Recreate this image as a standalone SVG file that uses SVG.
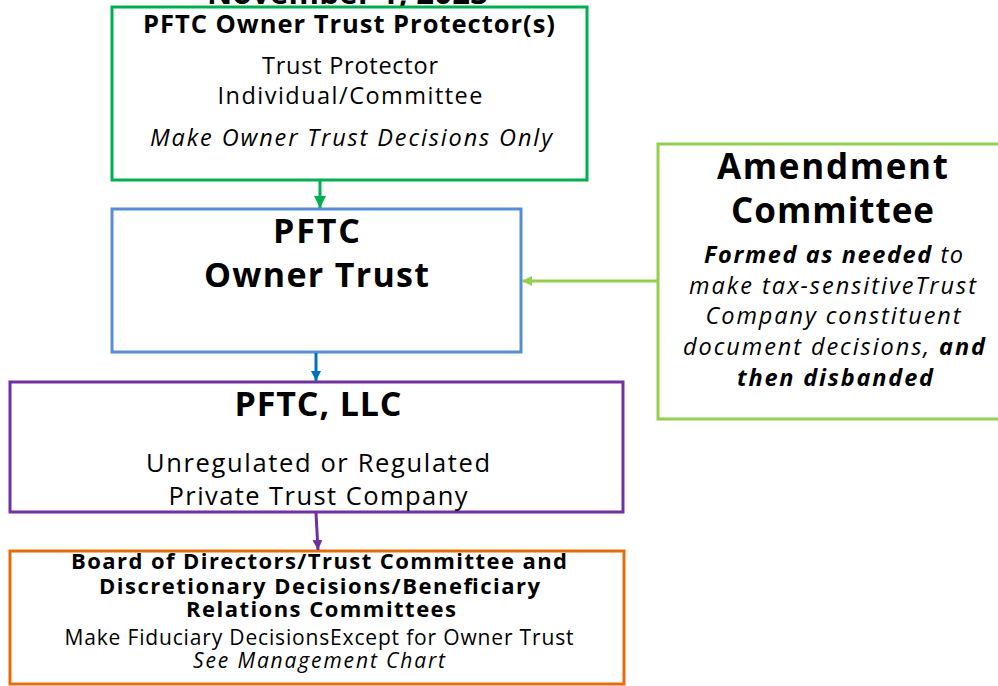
<svg xmlns="http://www.w3.org/2000/svg" width="998" height="686" viewBox="0 0 998 686">
  <style>
    text { font-family: "Open Sans", "Noto Sans", "DejaVu Sans", sans-serif; fill: #000; text-anchor: middle; }
    .b { font-weight: bold; }
    .i { font-style: italic; }
    .box { fill: #fff; stroke-width: 3; }
    .conn { fill: none; stroke-width: 3; }
  </style>
  <defs>
    <marker id="ahGreen" markerUnits="userSpaceOnUse" markerWidth="12" markerHeight="12" refX="10" refY="5" orient="auto" viewBox="0 0 10 10">
      <path d="M0,0 L10,5 L0,10 z" fill="#00b050"/>
    </marker>
    <marker id="ahBlue" markerUnits="userSpaceOnUse" markerWidth="10" markerHeight="10" refX="10" refY="5" orient="auto" viewBox="0 0 10 10">
      <path d="M0,0 L10,5 L0,10 z" fill="#0070c0"/>
    </marker>
    <marker id="ahPurple" markerUnits="userSpaceOnUse" markerWidth="10" markerHeight="10" refX="10" refY="5" orient="auto" viewBox="0 0 10 10">
      <path d="M0,0 L10,5 L0,10 z" fill="#7030a0"/>
    </marker>
    <marker id="ahLight" markerUnits="userSpaceOnUse" markerWidth="10" markerHeight="10" refX="10" refY="5" orient="auto" viewBox="0 0 10 10">
      <path d="M0,0 L10,5 L0,10 z" fill="#92d050"/>
    </marker>
  </defs>

  <!-- date heading, partly above the top edge -->
  <text class="b" x="347.5" y="4" font-size="31" textLength="281">November 1, 2023</text>

  <g id="protector">
    <rect class="box" x="112" y="7" width="475" height="173" stroke="#00b050"/>
    <text class="b" x="349" y="33" font-size="25.5" textLength="412">PFTC Owner Trust Protector(s)</text>
    <text x="350" y="74" font-size="23.5" textLength="176">Trust Protector</text>
    <text x="350" y="104" font-size="23.5" textLength="265">Individual/Committee</text>
    <text class="i" x="351" y="146" font-size="23.5" textLength="402">Make Owner Trust Decisions Only</text>
  </g>

  <g id="owner-trust">
    <rect class="box" x="112" y="209" width="409" height="143" stroke="#558ed5"/>
    <text class="b" x="316.5" y="243" font-size="34" textLength="87">PFTC</text>
    <text class="b" x="316.5" y="287" font-size="34" textLength="225">Owner Trust</text>
  </g>

  <g id="pftc-llc">
    <rect class="box" x="10" y="382" width="613" height="130" stroke="#7030a0"/>
    <text class="b" x="318" y="416" font-size="34" textLength="167">PFTC, LLC</text>
    <text x="318" y="472" font-size="25.5" textLength="344">Unregulated or Regulated</text>
    <text x="318" y="505" font-size="25.5" textLength="299">Private Trust Company</text>
  </g>

  <g id="board">
    <rect class="box" x="10" y="551" width="614" height="133" stroke="#e46c0a"/>
    <text class="b" x="319" y="569" font-size="22" textLength="496">Board of Directors/Trust Committee and</text>
    <text class="b" x="319.5" y="594" font-size="22" textLength="441">Discretionary Decisions/Beneficiary</text>
    <text class="b" x="321" y="617" font-size="22" textLength="270">Relations Committees</text>
    <text x="319" y="645" font-size="21" textLength="509">Make Fiduciary DecisionsExcept for Owner Trust</text>
    <text class="i" x="319" y="668" font-size="21" textLength="252">See Management Chart</text>
  </g>

  <g id="amendment">
    <rect class="box" x="658" y="144" width="345" height="275" stroke="#92d050"/>
    <text class="b" x="832.5" y="179" font-size="35" textLength="231">Amendment</text>
    <text class="b" x="832.5" y="223" font-size="35" textLength="203">Committee</text>
    <text class="i" x="833.5" y="263" font-size="23.5" textLength="259"><tspan class="b">Formed as needed</tspan> to</text>
    <text class="i" x="832.5" y="294" font-size="23.5" textLength="287">make tax-sensitiveTrust</text>
    <text class="i" x="833" y="324" font-size="23.5" textLength="255">Company constituent</text>
    <text class="i" x="834" y="355" font-size="23.5" textLength="302">document decisions, <tspan class="b">and</tspan></text>
    <text class="i b" x="835" y="386" font-size="23.5" textLength="196">then disbanded</text>
  </g>

  <g id="connectors">
    <line class="conn" x1="320" y1="181" x2="320" y2="208" stroke="#00b050" marker-end="url(#ahGreen)"/>
    <line class="conn" x1="316" y1="353" x2="316" y2="381" stroke="#0070c0" marker-end="url(#ahBlue)"/>
    <line class="conn" x1="316" y1="513" x2="318" y2="550" stroke="#7030a0" marker-end="url(#ahPurple)"/>
    <line class="conn" x1="657" y1="281" x2="522" y2="281" stroke="#92d050" stroke-width="2.5" marker-end="url(#ahLight)"/>
  </g>
</svg>
